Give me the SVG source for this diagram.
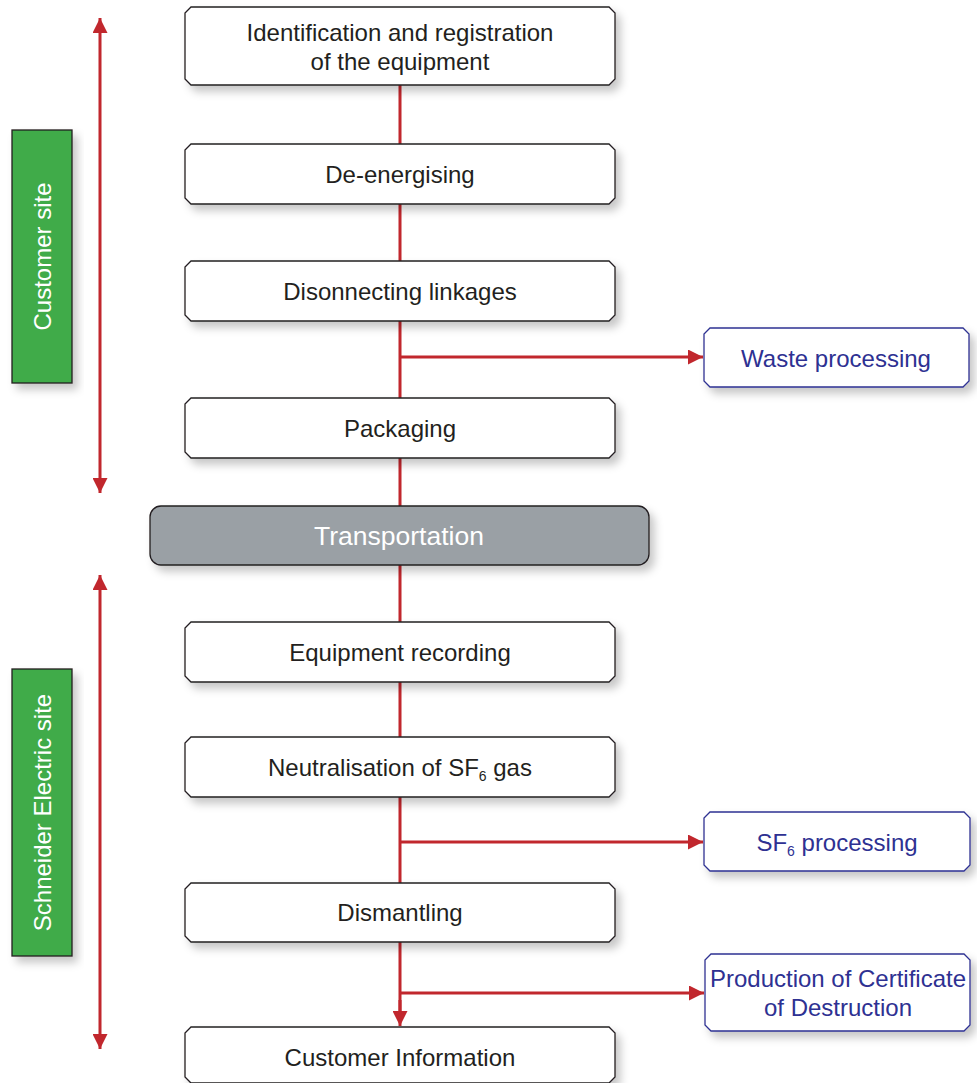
<svg xmlns="http://www.w3.org/2000/svg" width="977" height="1083" viewBox="0 0 977 1083">
<defs>
<filter id="sh" x="-10%" y="-20%" width="130%" height="160%">
<feDropShadow dx="5" dy="6" stdDeviation="4" flood-color="#000" flood-opacity="0.22"/>
</filter>
<marker id="ah" viewBox="0 0 10 10" refX="10" refY="5" markerWidth="6" markerHeight="5" orient="auto-start-reverse" markerUnits="strokeWidth">
<path d="M0,0 L10,5 L0,10 z" fill="#c1272d"/>
</marker>
<style>
.box{fill:#fff;stroke:#231f20;stroke-width:1.3;filter:url(#sh)}
.bbox{fill:#fff;stroke:#2e3192;stroke-width:1.3;filter:url(#sh)}
.t{font-family:"Liberation Sans",Arial,sans-serif;font-size:24px;fill:#231f20;text-anchor:middle}
.tb{font-family:"Liberation Sans",Arial,sans-serif;font-size:24px;fill:#2e3192;text-anchor:middle}
.tw{font-family:"Liberation Sans",Arial,sans-serif;font-size:24px;fill:#fff;text-anchor:middle}
.ln{stroke:#c1272d;stroke-width:3;fill:none}
.green{fill:#3fab49;stroke:#231f20;stroke-width:1.3;filter:url(#sh)}
</style>
</defs>
<g id="connectors">
<line class="ln" x1="400" y1="85" x2="400" y2="1012"/>
<line class="ln" x1="400" y1="1000" x2="400" y2="1026" marker-end="url(#ah)"/>
<line class="ln" x1="400" y1="357" x2="703" y2="357" marker-end="url(#ah)"/>
<line class="ln" x1="400" y1="842" x2="703" y2="842" marker-end="url(#ah)"/>
<line class="ln" x1="400" y1="993" x2="704" y2="993" marker-end="url(#ah)"/>
<line class="ln" x1="100" y1="18" x2="100" y2="493" marker-start="url(#ah)" marker-end="url(#ah)"/>
<line class="ln" x1="100" y1="575" x2="100" y2="1049" marker-start="url(#ah)" marker-end="url(#ah)"/>
</g>
<g id="customer-site">
<rect class="green" x="12" y="130" width="60" height="253"/>
<text class="tw" transform="translate(51,256.5) rotate(-90)">Customer site</text>
</g>
<g id="schneider-site">
<rect class="green" x="12" y="669" width="60" height="287"/>
<text class="tw" transform="translate(51,812.5) rotate(-90)">Schneider Electric site</text>
</g>
<g id="n1">
<polygon class="box" points="191,7 609,7 615,13 615,79 609,85 191,85 185,79 185,13"/>
<text class="t" x="400" y="41">Identification and registration</text>
<text class="t" x="400" y="70">of the equipment</text>
</g>
<g id="n2">
<polygon class="box" points="191,144 609,144 615,150 615,198 609,204 191,204 185,198 185,150"/>
<text class="t" x="400" y="183">De-energising</text>
</g>
<g id="n3">
<polygon class="box" points="191,261 609,261 615,267 615,315 609,321 191,321 185,315 185,267"/>
<text class="t" x="400" y="300">Disonnecting linkages</text>
</g>
<g id="n4">
<polygon class="box" points="191,398 609,398 615,404 615,452 609,458 191,458 185,452 185,404"/>
<text class="t" x="400" y="437">Packaging</text>
</g>
<g id="transport">
<rect x="150" y="506" width="499" height="59" rx="11" fill="#9aa0a5" stroke="#231f20" stroke-width="1.3" filter="url(#sh)"/>
<text class="tw" x="399" y="545" style="font-size:26.5px">Transportation</text>
</g>
<g id="n5">
<polygon class="box" points="191,622 609,622 615,628 615,676 609,682 191,682 185,676 185,628"/>
<text class="t" x="400" y="661">Equipment recording</text>
</g>
<g id="n6">
<polygon class="box" points="191,737 609,737 615,743 615,791 609,797 191,797 185,791 185,743"/>
<text class="t" x="400" y="776">Neutralisation of SF<tspan font-size="14" dy="5">6</tspan><tspan dy="-5"> gas</tspan></text>
</g>
<g id="n7">
<polygon class="box" points="191,883 609,883 615,889 615,936 609,942 191,942 185,936 185,889"/>
<text class="t" x="400" y="921">Dismantling</text>
</g>
<g id="n8">
<polygon class="box" points="191,1027 609,1027 615,1033 615,1077 609,1083 191,1083 185,1077 185,1033"/>
<text class="t" x="400" y="1066">Customer Information</text>
</g>
<g id="waste">
<polygon class="bbox" points="710,328 963,328 969,334 969,381 963,387 710,387 704,381 704,334"/>
<text class="tb" x="836" y="367">Waste processing</text>
</g>
<g id="sf6">
<polygon class="bbox" points="710,812 964,812 970,818 970,865 964,871 710,871 704,865 704,818"/>
<text class="tb" x="837" y="851">SF<tspan font-size="14" dy="5">6</tspan><tspan dy="-5"> processing</tspan></text>
</g>
<g id="cert">
<polygon class="bbox" points="711,954 964,954 970,960 970,1025 964,1031 711,1031 705,1025 705,960"/>
<text class="tb" x="838" y="987">Production of Certificate</text>
<text class="tb" x="838" y="1016">of Destruction</text>
</g>
</svg>
